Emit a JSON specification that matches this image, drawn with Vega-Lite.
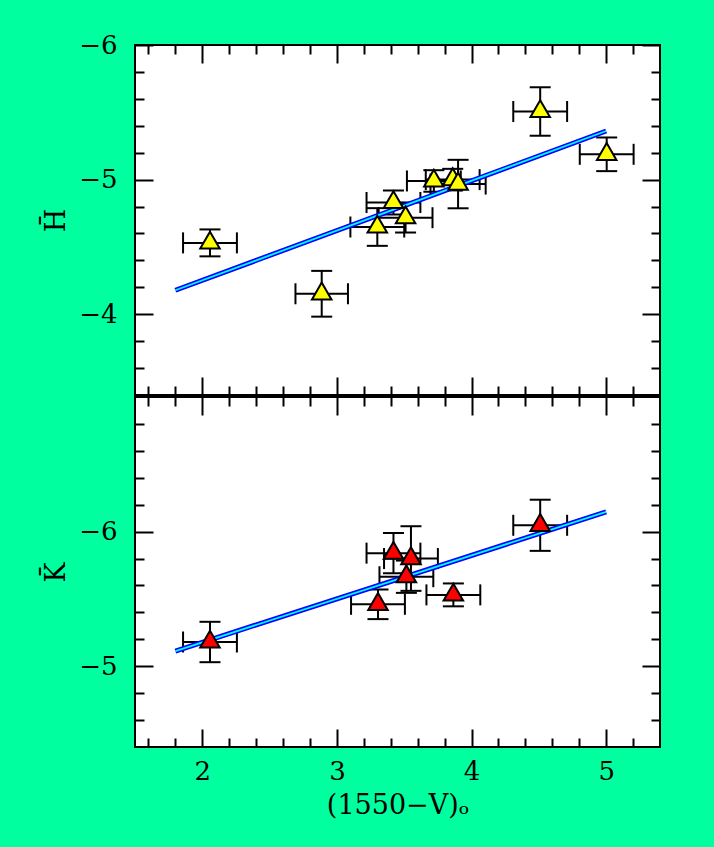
{
  "$schema": "https://vega.github.io/schema/vega-lite/v6.json",
  "background": "#00FF9F",
  "padding": {"left": 41, "top": 31, "right": 54, "bottom": 30},
  "bounds": "flush",
  "spacing": 2,
  "datasets": {
    "H": [
      {"x": 2.057, "y": -4.53, "xlo": 1.857, "xhi": 2.257, "ylo": -4.63, "yhi": -4.43},
      {"x": 2.887, "y": -4.152, "xlo": 2.692, "xhi": 3.082, "ylo": -4.322, "yhi": -3.982},
      {"x": 3.30, "y": -4.648, "xlo": 3.10, "xhi": 3.50, "ylo": -4.788, "yhi": -4.508},
      {"x": 3.42, "y": -4.83, "xlo": 3.22, "xhi": 3.62, "ylo": -4.92, "yhi": -4.74},
      {"x": 3.51, "y": -4.717, "xlo": 3.31, "xhi": 3.71, "ylo": -4.827, "yhi": -4.607},
      {"x": 3.72, "y": -4.99, "xlo": 3.52, "xhi": 3.92, "ylo": -5.07, "yhi": -4.91},
      {"x": 3.86, "y": -5.00, "xlo": 3.66, "xhi": 4.06, "ylo": -5.08, "yhi": -4.92},
      {"x": 3.90, "y": -4.967, "xlo": 3.695, "xhi": 4.105, "ylo": -5.147, "yhi": -4.787},
      {"x": 4.51, "y": -5.506, "xlo": 4.31, "xhi": 4.71, "ylo": -5.686, "yhi": -5.326},
      {"x": 5.004, "y": -5.188, "xlo": 4.804, "xhi": 5.204, "ylo": -5.313, "yhi": -5.063}
    ],
    "K": [
      {"x": 2.057, "y": -5.18, "xlo": 1.857, "xhi": 2.257, "ylo": -5.33, "yhi": -5.03},
      {"x": 3.305, "y": -5.46, "xlo": 3.105, "xhi": 3.505, "ylo": -5.57, "yhi": -5.35},
      {"x": 3.42, "y": -5.84, "xlo": 3.22, "xhi": 3.62, "ylo": -5.99, "yhi": -5.69},
      {"x": 3.55, "y": -5.80, "xlo": 3.35, "xhi": 3.75, "ylo": -6.04, "yhi": -5.56},
      {"x": 3.516, "y": -5.665, "xlo": 3.316, "xhi": 3.716, "ylo": -5.785, "yhi": -5.545},
      {"x": 3.865, "y": -5.53, "xlo": 3.665, "xhi": 4.065, "ylo": -5.615, "yhi": -5.445},
      {"x": 4.51, "y": -6.047, "xlo": 4.31, "xhi": 4.71, "ylo": -6.237, "yhi": -5.857}
    ],
    "Hfit": [{"x": 1.8, "y": -4.178}, {"x": 5.0, "y": -5.361}],
    "Kfit": [{"x": 1.8, "y": -5.113}, {"x": 5.0, "y": -6.146}]
  },
  "config": {
    "view": {"stroke": "black", "strokeWidth": 2, "fill": "white"},
    "axis": {
      "domain": false, "grid": false, "tickColor": "black", "tickWidth": 2,
      "labelFont": "DejaVu Serif", "labelFontSize": 26, "labelColor": "black", "format": ".0f",
      "titleFont": "DejaVu Serif", "titleFontSize": 27, "titleFontWeight": "normal", "titleColor": "black"
    }
  },
  "vconcat": [
    {
      "width": 525, "height": 350,
      "data": {"name": "H"},
      "layer": [
        {
          "mark": {"type": "rule", "color": "black", "strokeWidth": 2},
          "encoding": {
            "x": {"field": "x", "type": "quantitative", "scale": {"domain": [1.5, 5.4], "nice": false, "zero": false},
              "axis": {"orient": "bottom", "title": null, "labels": false,
                "values": [1.6,1.8,2,2.2,2.4,2.6,2.8,3,3.2,3.4,3.6,3.8,4,4.2,4.4,4.6,4.8,5,5.2],
                "tickSize": {"condition": {"test": "abs(datum.value - round(datum.value)) < 0.01", "value": -18}, "value": -9}}},
            "y": {"field": "ylo", "type": "quantitative", "scale": {"domain": [-6, -3.4], "nice": false, "zero": false, "reverse": true},
              "axis": {"orient": "left", "title": "H̄", "titlePadding": 8,
                "values": [-6,-5.8,-5.6,-5.4,-5.2,-5,-4.8,-4.6,-4.4,-4.2,-4,-3.8,-3.6],
                "labelExpr": "abs(datum.value - round(datum.value)) < 0.01 ? datum.label : ''",
                "labelPadding": 36,
                "tickSize": {"condition": {"test": "abs(datum.value - round(datum.value)) < 0.01", "value": -18}, "value": -9}}},
            "y2": {"field": "yhi"}
          }
        },
        {
          "mark": {"type": "rule", "color": "black", "strokeWidth": 2},
          "encoding": {
            "x": {"field": "xlo", "type": "quantitative", "scale": {"domain": [1.5, 5.4], "nice": false, "zero": false},
              "axis": {"orient": "top", "title": null, "labels": false,
                "values": [1.6,1.8,2,2.2,2.4,2.6,2.8,3,3.2,3.4,3.6,3.8,4,4.2,4.4,4.6,4.8,5,5.2],
                "tickSize": {"condition": {"test": "abs(datum.value - round(datum.value)) < 0.01", "value": -18}, "value": -9}}},
            "x2": {"field": "xhi"},
            "y": {"field": "y", "type": "quantitative", "scale": {"domain": [-6, -3.4], "nice": false, "zero": false, "reverse": true},
              "axis": {"orient": "right", "title": null, "labels": false,
                "values": [-6,-5.8,-5.6,-5.4,-5.2,-5,-4.8,-4.6,-4.4,-4.2,-4,-3.8,-3.6],
                "tickSize": {"condition": {"test": "abs(datum.value - round(datum.value)) < 0.01", "value": -18}, "value": -9}}}
          }
        },
        {
          "mark": {"type": "tick", "orient": "horizontal", "color": "black", "size": 21, "thickness": 2, "opacity": 1},
          "encoding": {
            "x": {"field": "x", "type": "quantitative", "scale": {"domain": [1.5, 5.4], "nice": false, "zero": false}, "axis": null},
            "y": {"field": "ylo", "type": "quantitative", "scale": {"domain": [-6, -3.4], "nice": false, "zero": false, "reverse": true}, "axis": null}
          }
        },
        {
          "mark": {"type": "tick", "orient": "horizontal", "color": "black", "size": 21, "thickness": 2, "opacity": 1},
          "encoding": {
            "x": {"field": "x", "type": "quantitative", "scale": {"domain": [1.5, 5.4], "nice": false, "zero": false}, "axis": null},
            "y": {"field": "yhi", "type": "quantitative", "scale": {"domain": [-6, -3.4], "nice": false, "zero": false, "reverse": true}, "axis": null}
          }
        },
        {
          "mark": {"type": "tick", "orient": "vertical", "color": "black", "size": 21, "thickness": 2, "opacity": 1},
          "encoding": {
            "x": {"field": "xlo", "type": "quantitative", "scale": {"domain": [1.5, 5.4], "nice": false, "zero": false}, "axis": null},
            "y": {"field": "y", "type": "quantitative", "scale": {"domain": [-6, -3.4], "nice": false, "zero": false, "reverse": true}, "axis": null}
          }
        },
        {
          "mark": {"type": "tick", "orient": "vertical", "color": "black", "size": 21, "thickness": 2, "opacity": 1},
          "encoding": {
            "x": {"field": "xhi", "type": "quantitative", "scale": {"domain": [1.5, 5.4], "nice": false, "zero": false}, "axis": null},
            "y": {"field": "y", "type": "quantitative", "scale": {"domain": [-6, -3.4], "nice": false, "zero": false, "reverse": true}, "axis": null}
          }
        },
        {
          "data": {"name": "Hfit"},
          "mark": {"type": "line", "color": "#0000FF", "strokeWidth": 5},
          "encoding": {
            "x": {"field": "x", "type": "quantitative", "scale": {"domain": [1.5, 5.4], "nice": false, "zero": false}, "axis": null},
            "y": {"field": "y", "type": "quantitative", "scale": {"domain": [-6, -3.4], "nice": false, "zero": false, "reverse": true}, "axis": null}
          }
        },
        {
          "data": {"name": "Hfit"},
          "mark": {"type": "line", "color": "#00FFFF", "strokeWidth": 1.8},
          "encoding": {
            "x": {"field": "x", "type": "quantitative", "scale": {"domain": [1.5, 5.4], "nice": false, "zero": false}, "axis": null},
            "y": {"field": "y", "type": "quantitative", "scale": {"domain": [-6, -3.4], "nice": false, "zero": false, "reverse": true}, "axis": null}
          }
        },
        {
          "mark": {"type": "point", "shape": "M0,-1.155L1,0.577L-1,0.577Z", "filled": true, "fill": "#FFFF00", "stroke": "black", "strokeWidth": 2, "size": 380, "opacity": 1},
          "encoding": {
            "x": {"field": "x", "type": "quantitative", "scale": {"domain": [1.5, 5.4], "nice": false, "zero": false}, "axis": null},
            "y": {"field": "y", "type": "quantitative", "scale": {"domain": [-6, -3.4], "nice": false, "zero": false, "reverse": true}, "axis": null}
          }
        }
      ],
      "resolve": {"axis": {"x": "independent", "y": "independent"}}
    },
    {
      "width": 525, "height": 350,
      "data": {"name": "K"},
      "layer": [
        {
          "mark": {"type": "rule", "color": "black", "strokeWidth": 2},
          "encoding": {
            "x": {"field": "x", "type": "quantitative", "scale": {"domain": [1.5, 5.4], "nice": false, "zero": false},
              "axis": {"orient": "bottom", "title": "(1550−V)ₒ", "titlePadding": 8,
                "values": [1.6,1.8,2,2.2,2.4,2.6,2.8,3,3.2,3.4,3.6,3.8,4,4.2,4.4,4.6,4.8,5,5.2],
                "labelExpr": "abs(datum.value - round(datum.value)) < 0.01 ? datum.label : ''",
                "labelPadding": 29,
                "tickSize": {"condition": {"test": "abs(datum.value - round(datum.value)) < 0.01", "value": -18}, "value": -9}}},
            "y": {"field": "ylo", "type": "quantitative", "scale": {"domain": [-7, -4.4], "nice": false, "zero": false, "reverse": true},
              "axis": {"orient": "left", "title": "K̄", "titlePadding": 8,
                "values": [-6.8,-6.6,-6.4,-6.2,-6,-5.8,-5.6,-5.4,-5.2,-5,-4.8,-4.6],
                "labelExpr": "abs(datum.value - round(datum.value)) < 0.01 ? datum.label : ''",
                "labelPadding": 36,
                "tickSize": {"condition": {"test": "abs(datum.value - round(datum.value)) < 0.01", "value": -18}, "value": -9}}},
            "y2": {"field": "yhi"}
          }
        },
        {
          "mark": {"type": "rule", "color": "black", "strokeWidth": 2},
          "encoding": {
            "x": {"field": "xlo", "type": "quantitative", "scale": {"domain": [1.5, 5.4], "nice": false, "zero": false},
              "axis": {"orient": "top", "title": null, "labels": false,
                "values": [1.6,1.8,2,2.2,2.4,2.6,2.8,3,3.2,3.4,3.6,3.8,4,4.2,4.4,4.6,4.8,5,5.2],
                "tickSize": {"condition": {"test": "abs(datum.value - round(datum.value)) < 0.01", "value": -18}, "value": -9}}},
            "x2": {"field": "xhi"},
            "y": {"field": "y", "type": "quantitative", "scale": {"domain": [-7, -4.4], "nice": false, "zero": false, "reverse": true},
              "axis": {"orient": "right", "title": null, "labels": false,
                "values": [-6.8,-6.6,-6.4,-6.2,-6,-5.8,-5.6,-5.4,-5.2,-5,-4.8,-4.6],
                "tickSize": {"condition": {"test": "abs(datum.value - round(datum.value)) < 0.01", "value": -18}, "value": -9}}}
          }
        },
        {
          "mark": {"type": "tick", "orient": "horizontal", "color": "black", "size": 21, "thickness": 2, "opacity": 1},
          "encoding": {
            "x": {"field": "x", "type": "quantitative", "scale": {"domain": [1.5, 5.4], "nice": false, "zero": false}, "axis": null},
            "y": {"field": "ylo", "type": "quantitative", "scale": {"domain": [-7, -4.4], "nice": false, "zero": false, "reverse": true}, "axis": null}
          }
        },
        {
          "mark": {"type": "tick", "orient": "horizontal", "color": "black", "size": 21, "thickness": 2, "opacity": 1},
          "encoding": {
            "x": {"field": "x", "type": "quantitative", "scale": {"domain": [1.5, 5.4], "nice": false, "zero": false}, "axis": null},
            "y": {"field": "yhi", "type": "quantitative", "scale": {"domain": [-7, -4.4], "nice": false, "zero": false, "reverse": true}, "axis": null}
          }
        },
        {
          "mark": {"type": "tick", "orient": "vertical", "color": "black", "size": 21, "thickness": 2, "opacity": 1},
          "encoding": {
            "x": {"field": "xlo", "type": "quantitative", "scale": {"domain": [1.5, 5.4], "nice": false, "zero": false}, "axis": null},
            "y": {"field": "y", "type": "quantitative", "scale": {"domain": [-7, -4.4], "nice": false, "zero": false, "reverse": true}, "axis": null}
          }
        },
        {
          "mark": {"type": "tick", "orient": "vertical", "color": "black", "size": 21, "thickness": 2, "opacity": 1},
          "encoding": {
            "x": {"field": "xhi", "type": "quantitative", "scale": {"domain": [1.5, 5.4], "nice": false, "zero": false}, "axis": null},
            "y": {"field": "y", "type": "quantitative", "scale": {"domain": [-7, -4.4], "nice": false, "zero": false, "reverse": true}, "axis": null}
          }
        },
        {
          "data": {"name": "Kfit"},
          "mark": {"type": "line", "color": "#0000FF", "strokeWidth": 5},
          "encoding": {
            "x": {"field": "x", "type": "quantitative", "scale": {"domain": [1.5, 5.4], "nice": false, "zero": false}, "axis": null},
            "y": {"field": "y", "type": "quantitative", "scale": {"domain": [-7, -4.4], "nice": false, "zero": false, "reverse": true}, "axis": null}
          }
        },
        {
          "data": {"name": "Kfit"},
          "mark": {"type": "line", "color": "#00FFFF", "strokeWidth": 1.8},
          "encoding": {
            "x": {"field": "x", "type": "quantitative", "scale": {"domain": [1.5, 5.4], "nice": false, "zero": false}, "axis": null},
            "y": {"field": "y", "type": "quantitative", "scale": {"domain": [-7, -4.4], "nice": false, "zero": false, "reverse": true}, "axis": null}
          }
        },
        {
          "mark": {"type": "point", "shape": "M0,-1.155L1,0.577L-1,0.577Z", "filled": true, "fill": "#FF0000", "stroke": "black", "strokeWidth": 2, "size": 380, "opacity": 1},
          "encoding": {
            "x": {"field": "x", "type": "quantitative", "scale": {"domain": [1.5, 5.4], "nice": false, "zero": false}, "axis": null},
            "y": {"field": "y", "type": "quantitative", "scale": {"domain": [-7, -4.4], "nice": false, "zero": false, "reverse": true}, "axis": null}
          }
        }
      ],
      "resolve": {"axis": {"x": "independent", "y": "independent"}}
    }
  ]
}
